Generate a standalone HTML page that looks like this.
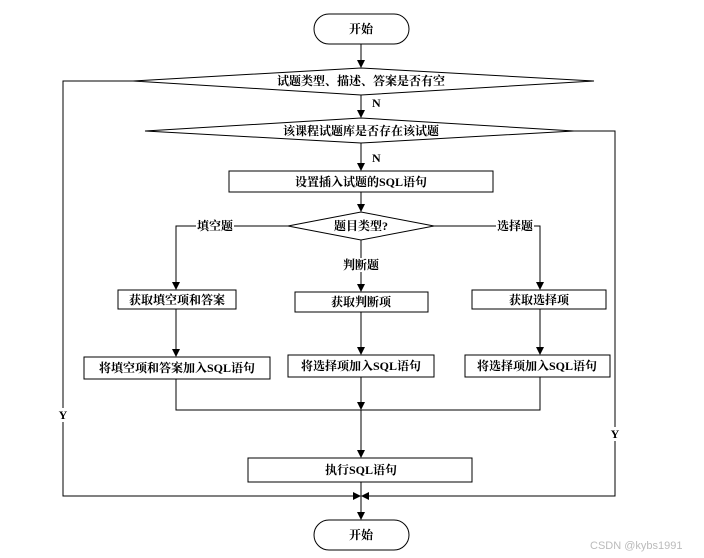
<!DOCTYPE html>
<html><head><meta charset="utf-8"><style>
html,body{margin:0;padding:0;background:#fff;}
svg{display:block;}
text{font-family:"Liberation Serif","Noto Serif CJK SC",serif;font-size:12px;font-weight:bold;fill:#000;}
</style></head><body>
<svg width="704" height="558" viewBox="0 0 704 558" xmlns="http://www.w3.org/2000/svg">
<defs><marker id="a" markerWidth="8" markerHeight="8" refX="7" refY="4" orient="auto" markerUnits="userSpaceOnUse"><path d="M0,0 L8,4 L0,8 z" fill="#000"/></marker></defs>
<g stroke="#000" stroke-width="1" fill="none">
<rect x="314" y="14" width="95" height="30" rx="15"/>
<line x1="361" y1="44" x2="361" y2="67" marker-end="url(#a)"/>
<polygon points="133,81 361,68 594,81 361,95" fill="#fff"/>
<line x1="361" y1="95" x2="361" y2="117" marker-end="url(#a)"/>
<polygon points="145,131 361,118 574,131 361,143" fill="#fff"/>
<line x1="361" y1="143" x2="361" y2="170" marker-end="url(#a)"/>
<rect x="229" y="171" width="264" height="21"/>
<line x1="361" y1="192" x2="361" y2="211" marker-end="url(#a)"/>
<polygon points="288,226 361,212 434,226 361,240" fill="#fff"/>
<polyline points="288,226 176,226 176,289" marker-end="url(#a)"/>
<polyline points="434,226 540,226 540,289" marker-end="url(#a)"/>
<line x1="361" y1="240" x2="361" y2="291" marker-end="url(#a)"/>
<rect x="118" y="290" width="118" height="19"/>
<rect x="295" y="292" width="133" height="20"/>
<rect x="472" y="290" width="134" height="19"/>
<line x1="176" y1="309" x2="176" y2="356" marker-end="url(#a)"/>
<line x1="361" y1="312" x2="361" y2="354" marker-end="url(#a)"/>
<line x1="540" y1="309" x2="540" y2="354" marker-end="url(#a)"/>
<rect x="84" y="357" width="186" height="22"/>
<rect x="288" y="355" width="146" height="22"/>
<rect x="465" y="355" width="145" height="22"/>
<polyline points="176,379 176,410 540,410 540,377"/>
<line x1="361" y1="377" x2="361" y2="409" marker-end="url(#a)"/>
<line x1="361" y1="410" x2="361" y2="457" marker-end="url(#a)"/>
<rect x="248" y="458" width="224" height="24"/>
<line x1="361" y1="482" x2="361" y2="519" marker-end="url(#a)"/>
<polyline points="133,81 63,81 63,496 360,496" marker-end="url(#a)"/>
<polyline points="574,131 615,131 615,496 362,496" marker-end="url(#a)"/>
<rect x="314" y="520" width="95" height="30" rx="15"/>
</g>
<rect x="196" y="219" width="38" height="14" fill="#fff"/>
<rect x="496" y="219" width="38" height="14" fill="#fff"/>
<rect x="342" y="258" width="38" height="14" fill="#fff"/>
<rect x="56" y="408" width="14" height="14" fill="#fff"/>
<rect x="608" y="427" width="14" height="14" fill="#fff"/>
<g text-anchor="middle">
<text x="361" y="33">开始</text>
<text x="361" y="85">试题类型、描述、答案是否有空</text>
<text x="361" y="135">该课程试题库是否存在该试题</text>
<text x="361" y="186">设置插入试题的SQL语句</text>
<text x="361" y="230">题目类型?</text>
<text x="215" y="230">填空题</text>
<text x="515" y="230">选择题</text>
<text x="361" y="269">判断题</text>
<text x="177" y="304">获取填空项和答案</text>
<text x="361" y="306">获取判断项</text>
<text x="539" y="304">获取选择项</text>
<text x="177" y="372">将填空项和答案加入SQL语句</text>
<text x="361" y="370">将选择项加入SQL语句</text>
<text x="537" y="370">将选择项加入SQL语句</text>
<text x="361" y="474">执行SQL语句</text>
<text x="361" y="539">开始</text>
<text x="63" y="419">Y</text>
<text x="615" y="438">Y</text>
</g>
<text x="372" y="107">N</text>
<text x="372" y="162">N</text>
<text x="590" y="549" style="font-family:'Liberation Sans',sans-serif;font-weight:normal;font-size:11px;fill:#bbb">CSDN @kybs1991</text>
</svg>
</body></html>
